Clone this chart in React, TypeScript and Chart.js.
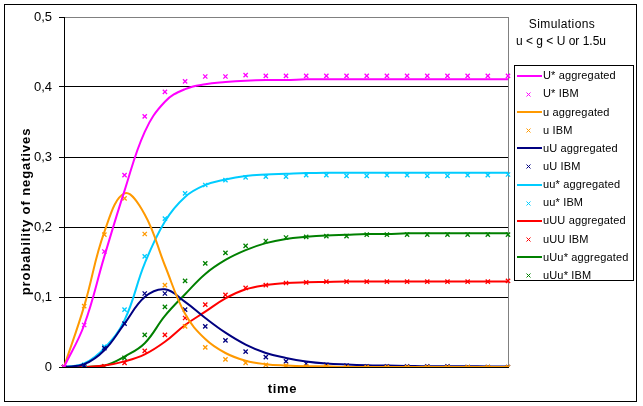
import React, { useEffect, useRef } from "react";
import { Chart, registerables } from "chart.js";

Chart.register(...registerables);

// time steps
const TIME = ["0","1","2","3","4","5","6","7","8","9","10","11","12","13","14","15","16","17","18","19","20","21","22"];

// series values (probability of negatives)
const U_STAR_AGG = [0, 0.06, 0.158, 0.252, 0.336, 0.379, 0.397, 0.404, 0.407, 0.409, 0.41, 0.41, 0.411, 0.411, 0.411, 0.411, 0.411, 0.411, 0.411, 0.411, 0.411, 0.411, 0.411];
const U_STAR_IBM = [0, 0.06, 0.165, 0.274, 0.358, 0.393, 0.408, 0.415, 0.415, 0.417, 0.416, 0.416, 0.416, 0.416, 0.416, 0.416, 0.416, 0.416, 0.416, 0.416, 0.416, 0.416, 0.416];
const U_AGG = [0, 0.087, 0.193, 0.248, 0.218, 0.145, 0.076, 0.04, 0.02, 0.009, 0.004, 0.002, 0.001, 0.001, 0, 0, 0, 0, 0, 0, 0, 0, 0];
const U_IBM = [0, 0.087, 0.189, 0.241, 0.19, 0.117, 0.058, 0.028, 0.011, 0.006, 0.003, 0.002, 0.001, 0.001, 0, 0, 0, 0, 0, 0, 0, 0, 0];
const UU_AGG = [0, 0.004, 0.024, 0.062, 0.1, 0.111, 0.093, 0.07, 0.049, 0.032, 0.02, 0.013, 0.008, 0.005, 0.0035, 0.0025, 0.002, 0.0015, 0.001, 0.001, 0.001, 0.0008, 0.0006];
const UU_IBM = [0, 0.002, 0.027, 0.062, 0.105, 0.105, 0.082, 0.058, 0.038, 0.022, 0.014, 0.008, 0.005, 0.003, 0.002, 0.001, 0.001, 0.001, 0.001, 0.001, 0, 0, 0];
const UUS_AGG = [0, 0.005, 0.027, 0.067, 0.148, 0.208, 0.243, 0.26, 0.268, 0.273, 0.275, 0.276, 0.277, 0.2775, 0.2776, 0.2776, 0.2776, 0.2776, 0.2776, 0.2776, 0.2776, 0.2776, 0.2776];
const UUS_IBM = [0, 0.003, 0.029, 0.082, 0.158, 0.212, 0.248, 0.26, 0.267, 0.271, 0.272, 0.272, 0.274, 0.274, 0.273, 0.273, 0.274, 0.274, 0.273, 0.273, 0.274, 0.274, 0.275];
const UUU_AGG = [0, 0, 0.002, 0.008, 0.018, 0.036, 0.06, 0.079, 0.098, 0.111, 0.117, 0.12, 0.121, 0.1215, 0.122, 0.122, 0.122, 0.122, 0.122, 0.122, 0.122, 0.122, 0.122];
const UUU_IBM = [0, 0, 0.001, 0.006, 0.023, 0.046, 0.07, 0.089, 0.103, 0.113, 0.117, 0.12, 0.121, 0.122, 0.122, 0.122, 0.122, 0.122, 0.122, 0.122, 0.122, 0.122, 0.123];
const UUUS_AGG = [0, 0, 0.002, 0.015, 0.034, 0.073, 0.104, 0.133, 0.153, 0.167, 0.177, 0.183, 0.186, 0.188, 0.189, 0.19, 0.19, 0.191, 0.191, 0.191, 0.191, 0.191, 0.191];
const UUUS_IBM = [0, 0, 0.001, 0.013, 0.046, 0.086, 0.123, 0.148, 0.163, 0.173, 0.18, 0.185, 0.186, 0.187, 0.187, 0.189, 0.189, 0.189, 0.189, 0.189, 0.189, 0.189, 0.189];

const SERIES_LABELS = [
  "U* aggregated", "U* IBM",
  "u aggregated", "u IBM",
  "uU aggregated", "uU IBM",
  "uu* aggregated", "uu* IBM",
  "uUU aggregated", "uUU IBM",
  "uUu* aggregated", "uUu* IBM",
];
const SERIES_VALUES = [
  U_STAR_AGG, U_STAR_IBM,
  U_AGG, U_IBM,
  UU_AGG, UU_IBM,
  UUS_AGG, UUS_IBM,
  UUU_AGG, UUU_IBM,
  UUUS_AGG, UUUS_IBM,
];
const SERIES_COLORS = ["#FF00FF", "#FF9900", "#000080", "#00CCFF", "#FF0000", "#008000"];

const Y_MIN = 0;
const Y_MAX = 0.5;
const Y_STEP = 0.1;

const LEGEND_TITLE = ["Simulations", "u < g < U or 1.5u"];
const Y_TITLE = "probability of negatives";
const X_TITLE = "time";

const FONT = '"Liberation Sans", Arial, sans-serif';

const decorPlugin = {
  id: "decor",
  beforeDatasetsDraw(chart: any) {
    const { ctx, chartArea } = chart;
    ctx.save();
    ctx.strokeStyle = "#808080";
    ctx.lineWidth = 1;
    ctx.beginPath();
    ctx.moveTo(Math.round(chartArea.right) + 0.5, chartArea.top);
    ctx.lineTo(Math.round(chartArea.right) + 0.5, chartArea.bottom);
    ctx.stroke();
    ctx.restore();
  },
  afterDraw(chart: any) {
    const { ctx } = chart;
    ctx.save();
    // axis titles
    ctx.fillStyle = "#000";
    ctx.font = `bold 13px ${FONT}`;
    (ctx as any).letterSpacing = "0.9px";
    ctx.textAlign = "center";
    ctx.textBaseline = "alphabetic";
    ctx.save();
    ctx.translate(30, 211.5);
    ctx.rotate(-Math.PI / 2);
    ctx.fillText(Y_TITLE, 0, 0);
    ctx.restore();
    (ctx as any).letterSpacing = "0.7px";
    ctx.fillText(X_TITLE, 282.5, 393);

    // legend title
    ctx.font = `12px ${FONT}`;
    (ctx as any).letterSpacing = "0.4px";
    ctx.textBaseline = "middle";
    ctx.fillText(LEGEND_TITLE[0], 562, 24.5);
    (ctx as any).letterSpacing = "0px";
    ctx.fillText(LEGEND_TITLE[1], 561, 42);

    // legend box
    ctx.strokeStyle = "#000";
    ctx.lineWidth = 1;
    ctx.strokeRect(514.5, 65.5, 119, 215);
    ctx.font = `11px ${FONT}`;
    (ctx as any).letterSpacing = "0.15px";
    ctx.textAlign = "left";
    chart.data.datasets.forEach((ds: any, i: number) => {
      const cy = 75.7 + 18.15 * i;
      if (ds.showLine !== false) {
        ctx.strokeStyle = ds.borderColor;
        ctx.lineWidth = 2;
        ctx.beginPath();
        ctx.moveTo(517, Math.round(cy));
        ctx.lineTo(542, Math.round(cy));
        ctx.stroke();
      } else {
        ctx.strokeStyle = ds.pointBorderColor;
        ctx.lineWidth = 1;
        const r = 2;
        const x = 528.5, y = Math.round(cy) + 0.5;
        ctx.beginPath();
        ctx.moveTo(x - r, y - r);
        ctx.lineTo(x + r, y + r);
        ctx.moveTo(x - r, y + r);
        ctx.lineTo(x + r, y - r);
        ctx.stroke();
      }
      ctx.fillStyle = "#000";
      ctx.fillText(ds.label, 543, cy + 0.5);
    });
    ctx.restore();
  },
};

export default function App() {
  const canvasRef = useRef<HTMLCanvasElement | null>(null);

  useEffect(() => {
    const canvas = canvasRef.current;
    if (!canvas) return;
    const datasets = SERIES_LABELS.map((label, i) => {
      const color = SERIES_COLORS[Math.floor(i / 2)];
      const isLine = i % 2 === 0;
      return isLine
        ? {
            label,
            data: SERIES_VALUES[i],
            borderColor: color,
            backgroundColor: color,
            borderWidth: 2,
            pointRadius: 0,
            showLine: true,
            fill: false,
            tension: 0.4,
          }
        : {
            label,
            data: SERIES_VALUES[i],
            borderColor: color,
            backgroundColor: color,
            pointBorderColor: color,
            pointBackgroundColor: color,
            pointStyle: "crossRot" as const,
            pointRadius: 3,
            pointBorderWidth: 1.3,
            showLine: false,
            fill: false,
          };
    });

    const chart = new Chart(canvas, {
      type: "line",
      data: { labels: TIME, datasets },
      options: {
        animation: false,
        responsive: false,
        devicePixelRatio: 1,
        layout: { padding: { top: 17, right: 135, left: 0, bottom: 0 } },
        plugins: { legend: { display: false }, tooltip: { enabled: false }, title: { display: false } },
        scales: {
          x: {
            type: "category",
            offset: false,
            grid: { display: false, drawTicks: false },
            border: { display: true, color: "#000", width: 1 },
            ticks: { display: false },
            afterFit: (scale: any) => { scale.height = 39; },
          },
          y: {
            min: Y_MIN,
            max: Y_MAX,
            grid: {
              color: (c: any) => (c.tick && Math.abs(c.tick.value - Y_MAX) < 1e-9 ? "#808080" : "#000"),
              tickColor: "#000",
              lineWidth: 1,
              tickLength: 5,
              drawTicks: true,
            },
            border: { display: true, color: "#000", width: 1 },
            ticks: {
              stepSize: Y_STEP,
              padding: 7,
              color: "#000",
              font: { family: FONT, size: 13 },
              callback: (v: any) => (Number(v) === 0 ? "0" : Number(v).toFixed(1).replace(".", ",")),
            },
            afterFit: (scale: any) => { scale.width = 64; },
          },
        },
      },
      plugins: [decorPlugin],
    });
    return () => chart.destroy();
  }, []);

  return (
    <div style={{ position: "fixed", left: 0, top: 0, width: 643, height: 406, background: "#fff" }}>
      <div
        style={{
          position: "absolute",
          left: 4,
          top: 4,
          width: 633,
          height: 398,
          border: "1px solid #000",
          boxSizing: "border-box",
        }}
      />
      <canvas ref={canvasRef} width={643} height={406} style={{ position: "absolute", left: 0, top: 0, width: 643, height: 406 }} />
    </div>
  );
}
